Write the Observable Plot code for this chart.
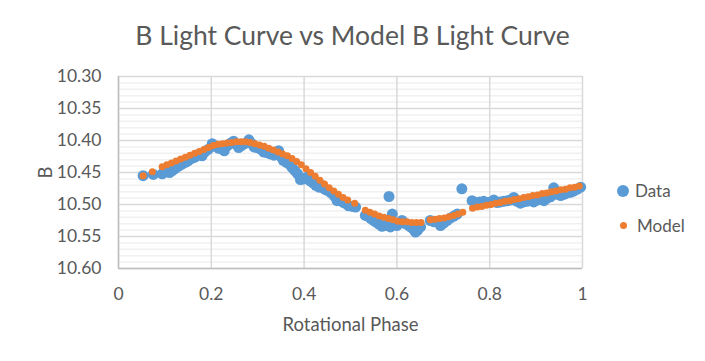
<!DOCTYPE html>
<html>
<head>
<meta charset="utf-8">
<script src="https://cdn.jsdelivr.net/npm/d3@7"></script>
<script src="https://cdn.jsdelivr.net/npm/@observablehq/plot@0.6"></script>
<style>
  html, body { margin: 0; padding: 0; background: #fff; }
  #wrap { position: relative; width: 705px; height: 361px; font-family: Lato, "Open Sans", sans-serif; color: #595959; }
  #title { position: absolute; left: 0; width: 705px; top: 19px; text-align: center; font-size: 26.5px; }
  .leg { position: absolute; font-size: 17px; display: flex; align-items: center; }
  .sw { border-radius: 50%; display: inline-block; }
  g[aria-label="x-axis label"] text, g[aria-label="y-axis label"] text { font-size: 18.5px; }
</style>
</head>
<body>
<div id="wrap">
  <div id="title">B Light Curve vs Model B Light Curve</div>
  <div id="chart"></div>
  <div class="leg" style="left:617px; top:180px;"><span class="sw" style="width:12px;height:12px;background:#5b9bd5;margin-right:6px;"></span>Data</div>
  <div class="leg" style="left:620px; top:215px;"><span class="sw" style="width:7px;height:7px;background:#ed7d31;margin-right:10px;"></span>Model</div>
</div>
<script>
// Observed B light curve (Data)
const dataPhase = [0.053,0.075,0.094,0.103,0.110,0.116,0.122,0.130,0.137,0.144,0.150,0.158,0.165,0.172,0.180,0.186,0.193,0.202,0.208,0.215,0.222,0.228,0.235,0.242,0.248,0.254,0.259,0.265,0.272,0.281,0.287,0.292,0.298,0.305,0.313,0.320,0.327,0.335,0.345,0.350,0.355,0.362,0.368,0.374,0.380,0.386,0.392,0.399,0.407,0.413,0.419,0.425,0.432,0.438,0.444,0.450,0.458,0.465,0.471,0.478,0.485,0.491,0.496,0.504,0.511,0.532,0.538,0.544,0.550,0.556,0.562,0.568,0.575,0.583,0.586,0.590,0.595,0.600,0.606,0.611,0.618,0.624,0.629,0.635,0.640,0.645,0.651,0.672,0.680,0.687,0.694,0.701,0.708,0.716,0.723,0.730,0.740,0.762,0.770,0.778,0.787,0.795,0.802,0.809,0.816,0.823,0.830,0.838,0.845,0.852,0.859,0.866,0.873,0.880,0.888,0.895,0.902,0.910,0.917,0.924,0.931,0.938,0.945,0.953,0.960,0.967,0.974,0.981,0.989,0.996];
const dataB = [10.455,10.453,10.452,10.449,10.450,10.447,10.444,10.440,10.437,10.434,10.432,10.428,10.426,10.422,10.424,10.418,10.414,10.405,10.409,10.412,10.413,10.416,10.408,10.404,10.401,10.406,10.411,10.408,10.405,10.399,10.405,10.410,10.411,10.413,10.418,10.419,10.421,10.423,10.416,10.425,10.431,10.434,10.437,10.442,10.447,10.452,10.461,10.460,10.457,10.463,10.466,10.470,10.473,10.470,10.476,10.478,10.482,10.487,10.494,10.494,10.497,10.499,10.502,10.503,10.504,10.517,10.518,10.522,10.525,10.528,10.531,10.534,10.533,10.4875,10.535,10.515,10.530,10.533,10.528,10.525,10.530,10.532,10.535,10.538,10.543,10.540,10.535,10.525,10.527,10.526,10.533,10.529,10.525,10.521,10.518,10.515,10.4755,10.494,10.497,10.496,10.495,10.497,10.496,10.493,10.497,10.496,10.495,10.494,10.493,10.489,10.495,10.498,10.496,10.495,10.494,10.496,10.493,10.492,10.494,10.490,10.488,10.474,10.484,10.486,10.484,10.482,10.481,10.479,10.476,10.473];

// Model B light curve
const modelPhase = [0.053,0.073,0.094,0.104,0.114,0.124,0.134,0.144,0.154,0.164,0.174,0.184,0.194,0.204,0.214,0.224,0.234,0.244,0.254,0.264,0.274,0.284,0.294,0.304,0.314,0.324,0.334,0.344,0.354,0.364,0.374,0.384,0.394,0.404,0.414,0.424,0.434,0.444,0.454,0.464,0.474,0.484,0.494,0.509,0.532,0.542,0.552,0.562,0.572,0.582,0.592,0.602,0.612,0.622,0.632,0.642,0.652,0.672,0.682,0.692,0.702,0.712,0.722,0.732,0.742,0.763,0.773,0.783,0.793,0.803,0.813,0.823,0.833,0.843,0.853,0.863,0.873,0.883,0.893,0.903,0.913,0.923,0.933,0.943,0.953,0.963,0.973,0.983,0.993];
const modelB = [10.455,10.449,10.441,10.438,10.435,10.432,10.429,10.426,10.423,10.420,10.417,10.414,10.411,10.408,10.406,10.405,10.404,10.403,10.402,10.402,10.402,10.403,10.405,10.407,10.409,10.412,10.415,10.418,10.421,10.424,10.428,10.433,10.438,10.444,10.450,10.456,10.462,10.468,10.474,10.479,10.484,10.489,10.493,10.498,10.509,10.512,10.515,10.518,10.520,10.522,10.524,10.526,10.527,10.527,10.528,10.528,10.528,10.524,10.523,10.522,10.521,10.519,10.517,10.515,10.512,10.506,10.504,10.503,10.501,10.500,10.498,10.497,10.495,10.494,10.492,10.491,10.489,10.488,10.486,10.485,10.483,10.482,10.480,10.479,10.477,10.476,10.474,10.473,10.471];

const xTicks = [0, 0.2, 0.4, 0.6, 0.8, 1];
const yTicks = [10.30, 10.35, 10.40, 10.45, 10.50, 10.55, 10.60];
const yMinor = [10.31,10.32,10.33,10.34,10.36,10.37,10.38,10.39,10.41,10.42,10.43,10.44,10.46,10.47,10.48,10.49,10.51,10.52,10.53,10.54,10.56,10.57,10.58,10.59];

const data = dataPhase.map((p, i) => ({phase: p, B: dataB[i]}));
const model = modelPhase.map((p, i) => ({phase: p, B: modelB[i]}));

const chart = Plot.plot({
  width: 705,
  height: 361,
  marginLeft: 118,
  marginRight: 123,
  marginTop: 76,
  marginBottom: 93,
  style: {fontFamily: "Lato, 'Open Sans', sans-serif", fontSize: "17.5px", color: "#595959", background: "#fff"},
  x: {domain: [0, 1], ticks: xTicks, tickFormat: d => String(d), tickSize: 0, tickPadding: 19, label: "Rotational Phase", labelAnchor: "center", labelArrow: "none", labelOffset: 62},
  y: {domain: [10.30, 10.60], reverse: true, ticks: yTicks, tickFormat: d => d.toFixed(2), tickSize: 0, tickPadding: 17, label: "B", labelAnchor: "center", labelArrow: "none", labelOffset: 80},
  marks: [
    Plot.ruleY(yMinor, {stroke: "#f0f0f0", strokeWidth: 1.5}),
    Plot.ruleY(yTicks, {stroke: "#d9d9d9", strokeWidth: 1.5}),
    Plot.ruleX(xTicks, {stroke: "#d9d9d9", strokeWidth: 1.5}),
    Plot.ruleX([0], {stroke: "#bfbfbf", strokeWidth: 1.5}),
    Plot.ruleY([10.60], {stroke: "#bfbfbf", strokeWidth: 1.5}),
    Plot.dot(data, {x: "phase", y: "B", r: 5.5, fill: "#5b9bd5", stroke: "none"}),
    Plot.dot(model, {x: "phase", y: "B", r: 3.5, fill: "#ed7d31", stroke: "none"})
  ]
});
document.getElementById("chart").appendChild(chart);
</script>
</body>
</html>
